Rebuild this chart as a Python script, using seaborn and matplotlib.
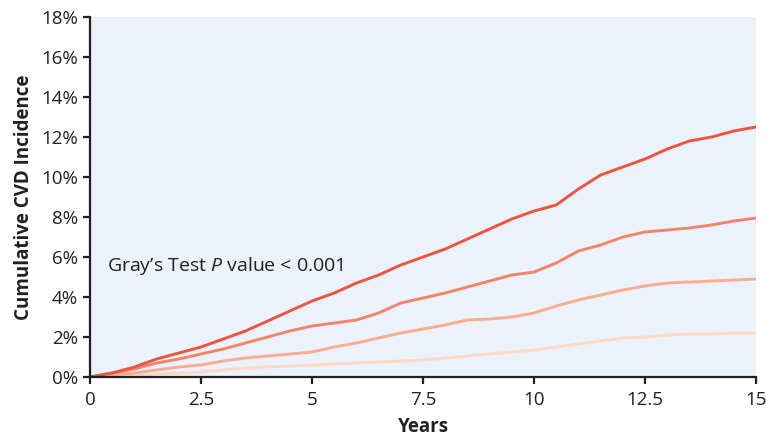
import matplotlib
matplotlib.use("Agg")
import matplotlib.pyplot as plt
import matplotlib.ticker as mticker
import seaborn as sns
import pandas as pd

# cumulative incidence (%), every half year
years = [0, 0.5, 1, 1.5, 2, 2.5, 3, 3.5, 4, 4.5, 5, 5.5, 6, 6.5, 7, 7.5,
         8, 8.5, 9, 9.5, 10, 10.5, 11, 11.5, 12, 12.5, 13, 13.5, 14, 14.5, 15]
group_1 = [0, 0.2, 0.5, 0.9, 1.2, 1.5, 1.9, 2.3, 2.8, 3.3, 3.8, 4.2, 4.7, 5.1, 5.6, 6.0,
           6.4, 6.9, 7.4, 7.9, 8.3, 8.6, 9.4, 10.1, 10.5, 10.9, 11.4, 11.8, 12.0, 12.3, 12.5]
group_2 = [0, 0.2, 0.4, 0.7, 0.9, 1.15, 1.4, 1.7, 2.0, 2.3, 2.55, 2.7, 2.85, 3.2, 3.7, 3.95,
           4.2, 4.5, 4.8, 5.1, 5.25, 5.7, 6.3, 6.6, 7.0, 7.25, 7.35, 7.45, 7.6, 7.8, 7.95]
group_3 = [0, 0.1, 0.2, 0.35, 0.5, 0.6, 0.8, 0.95, 1.05, 1.15, 1.25, 1.5, 1.7, 1.95, 2.2, 2.4,
           2.6, 2.85, 2.9, 3.0, 3.2, 3.55, 3.85, 4.1, 4.35, 4.55, 4.7, 4.75, 4.8, 4.85, 4.9]
group_4 = [0, 0.05, 0.1, 0.15, 0.2, 0.25, 0.35, 0.45, 0.5, 0.55, 0.6, 0.65, 0.7, 0.75, 0.8, 0.85,
           0.95, 1.05, 1.15, 1.25, 1.35, 1.5, 1.65, 1.8, 1.95, 2.0, 2.1, 2.15, 2.15, 2.2, 2.2]

groups = ["g4", "g3", "g2", "g1"]
colors = {"g1": "#EF5440", "g2": "#F4836B", "g3": "#F9AC91", "g4": "#FDD8C7"}

rows = []
for name, vals in zip(["g1", "g2", "g3", "g4"], [group_1, group_2, group_3, group_4]):
    for t, v in zip(years, vals):
        rows.append({"years": t, "inc": v, "grp": name})
df = pd.DataFrame(rows)

sns.set_style("ticks")
plt.rcParams['font.family'] = ['Open Sans', 'DejaVu Sans']
plt.rcParams['font.weight'] = 'medium'
plt.rcParams['mathtext.fontset'] = 'custom'
plt.rcParams['mathtext.rm'] = 'Open Sans'
plt.rcParams['mathtext.it'] = 'Open Sans:italic:medium'

fig = plt.figure(figsize=(7.66, 4.41), dpi=100)
ax = fig.add_axes([0.1175, 0.1451, 0.8695, 0.8164])
ax.set_facecolor("#EBF2FA")

sns.lineplot(data=df, x="years", y="inc", hue="grp", hue_order=groups, palette=colors,
             estimator=None, linewidth=2.1, legend=False, ax=ax)

ax.set_xlim(0, 15)
ax.set_ylim(0, 18)
ax.set_xticks([0, 2.5, 5, 7.5, 10, 12.5, 15])
ax.xaxis.set_major_formatter(mticker.FuncFormatter(lambda v, p: "{:g}".format(v)))
ax.set_yticks(range(0, 19, 2))
ax.yaxis.set_major_formatter(mticker.FuncFormatter(lambda v, p: "{:d}%".format(int(v))))

for s in ["top", "right"]:
    ax.spines[s].set_visible(False)
for s in ["left", "bottom"]:
    ax.spines[s].set_color("#231F20")
    ax.spines[s].set_linewidth(1.6)
ax.tick_params(axis="both", colors="#231F20", labelsize=13.5, length=5, width=1.6)
ax.tick_params(axis="x", pad=5)

ax.set_xlabel("Years", fontsize=13.5, fontweight="bold", color="#231F20", labelpad=6)
ax.set_ylabel("Cumulative CVD Incidence", fontsize=13.5, fontweight="bold", color="#231F20", labelpad=5)

ax.text(0.38, 5.55, "Gray\u2019s Test $\\it{P}$ value < 0.001", fontsize=14,
        color="#231F20", va="center", ha="left")

fig.savefig("out.png", dpi=100)
plt.close()
